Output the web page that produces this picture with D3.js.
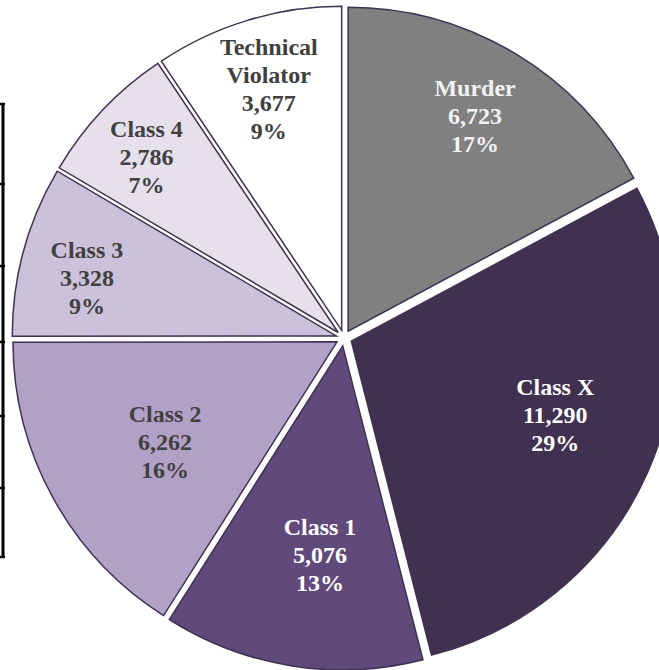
<!DOCTYPE html>
<html>
<head>
<meta charset="utf-8">
<script src="https://cdn.jsdelivr.net/npm/d3@7"></script>
<style>
  body { margin: 0; background: #fff; }
  svg { display: block; }
</style>
</head>
<body>
<div class="canvas"></div>
<script>
// data
const categories = ['Murder', 'Class X', 'Class 1', 'Class 2', 'Class 3', 'Class 4', 'Technical Violator'];
const values = [6723, 11290, 5076, 6262, 3328, 2786, 3677];
const nameLines = [['Murder'], ['Class X'], ['Class 1'], ['Class 2'], ['Class 3'], ['Class 4'], ['Technical', 'Violator']];
const colors = ['#808080', '#403151', '#604a7b', '#b2a1c7', '#ccc1da', '#e5e0ec', '#ffffff'];
const textColors = ['#f2f2f2', '#ffffff', '#ffffff', '#404040', '#404040', '#404040', '#404040'];

// label placement (layout): distance from slice centre and angle nudge in degrees
const labelDist = [250, 217, 210, 199, 256, 260, 252];
const labelTurn = [-0.4, -3.8, -2.8, -1.4, -2.2, -0.9, 0.1];

// edge of a table sitting behind the chart (row lines)
const tableRows = [104, 184, 266, 342, 416, 488, 557];

const width = 659, height = 670;
const cx = 344, cy = 338, radius = 324, explode = 8;

const svg = d3.select('.canvas')
  .append('svg')
  .attr('width', width)
  .attr('height', height);

// table fragment
const table = svg.append('g');
table.append('line')
  .attr('x1', 3).attr('x2', 3)
  .attr('y1', tableRows[0]).attr('y2', tableRows[tableRows.length - 1])
  .attr('stroke', '#000').attr('stroke-width', 3);
table.selectAll('.row')
  .data(tableRows)
  .enter()
  .append('line')
  .attr('x1', 0).attr('x2', 5)
  .attr('y1', d => d).attr('y2', d => d)
  .attr('stroke', '#000').attr('stroke-width', 2.5);

const total = d3.sum(values);
const pct = d3.format('.0%');
const num = d3.format(',');

const pie = d3.pie().sort(null).value(d => d);
const arc = d3.arc().innerRadius(0).outerRadius(radius);

const graph = svg.append('g')
  .attr('transform', `translate(${cx},${cy})`);

const slices = graph.selectAll('g.slice')
  .data(pie(values))
  .enter()
  .append('g')
  .attr('class', 'slice')
  .attr('transform', d => {
    const mid = (d.startAngle + d.endAngle) / 2;
    return `translate(${Math.sin(mid) * explode},${-Math.cos(mid) * explode})`;
  });

slices.append('path')
  .attr('d', arc)
  .attr('fill', (d, i) => colors[i])
  .attr('stroke', '#3f3151')
  .attr('stroke-width', 1.5)
  .attr('stroke-linejoin', 'miter');

// labels
const lineH = 28;
slices.each(function (d, i) {
  const lines = nameLines[i].concat([num(values[i]), pct(values[i] / total)]);
  const lr = labelDist[i];
  const turn = labelTurn[i] * Math.PI / 180;
  const c = d3.arc().innerRadius(lr).outerRadius(lr)
    .centroid({ startAngle: d.startAngle + turn, endAngle: d.endAngle + turn });
  const y0 = c[1] - (lines.length - 1) * lineH / 2 + 8;
  const t = d3.select(this).append('text')
    .attr('text-anchor', 'middle')
    .attr('font-family', '"Liberation Serif", "Times New Roman", serif')
    .attr('font-weight', 'bold')
    .attr('font-size', 24)
    .attr('fill', textColors[i]);
  lines.forEach((s, k) => {
    t.append('tspan')
      .attr('x', c[0])
      .attr('y', y0 + k * lineH)
      .text(s);
  });
});
</script>
</body>
</html>
